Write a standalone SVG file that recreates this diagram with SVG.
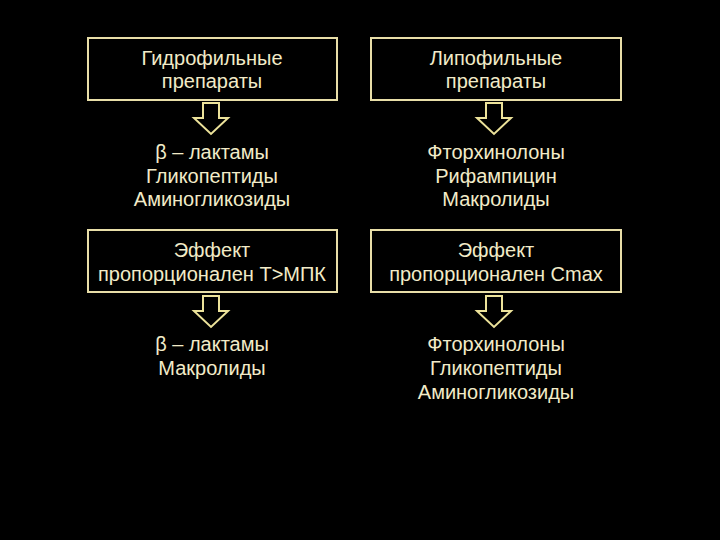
<svg xmlns="http://www.w3.org/2000/svg" width="720" height="540" viewBox="0 0 720 540">
<style>
.box{fill:#000;stroke:#E8DEA8;stroke-width:2}
.arr{fill:none;stroke:#ECE29A;stroke-width:2;stroke-linejoin:miter}
text{font-family:"Liberation Sans",Arial,sans-serif;font-size:20px;fill:#F2EBC8;text-anchor:middle}
</style>
<defs>
<path id="down" class="arr" d="M-8,0 H8 V15 H17 L0,31 L-17,15 H-8 Z"/>
</defs>
<rect width="720" height="540" fill="#000"/>
<g id="hydro">
<rect class="box" x="88" y="38" width="249" height="62"/>
<text x="212" y="65">Гидрофильные</text>
<text x="212" y="88">препараты</text>
</g>
<g id="lipo">
<rect class="box" x="371" y="38" width="250" height="62"/>
<text x="496" y="65">Липофильные</text>
<text x="496" y="88">препараты</text>
</g>
<g id="hydro-list">
<text x="212" y="159">β – лактамы</text>
<text x="212" y="183">Гликопептиды</text>
<text x="212" y="206">Аминогликозиды</text>
</g>
<g id="lipo-list">
<text x="496" y="159">Фторхинолоны</text>
<text x="496" y="183">Рифампицин</text>
<text x="496" y="206">Макролиды</text>
</g>
<g id="effect-t">
<rect class="box" x="88" y="230" width="249" height="62"/>
<text x="212" y="257">Эффект</text>
<text x="212" y="281">пропорционален T&gt;МПК</text>
</g>
<g id="effect-c">
<rect class="box" x="371" y="230" width="250" height="62"/>
<text x="496" y="257">Эффект</text>
<text x="496" y="281">пропорционален Cmax</text>
</g>
<g id="time-list">
<text x="212" y="351">β – лактамы</text>
<text x="212" y="375">Макролиды</text>
</g>
<g id="conc-list">
<text x="496" y="351">Фторхинолоны</text>
<text x="496" y="375">Гликопептиды</text>
<text x="496" y="399">Аминогликозиды</text>
</g>
<g id="connectors">
<use href="#down" x="211" y="103"/>
<use href="#down" x="494" y="103"/>
<use href="#down" x="211" y="296"/>
<use href="#down" x="494" y="296"/>
</g>
</svg>
